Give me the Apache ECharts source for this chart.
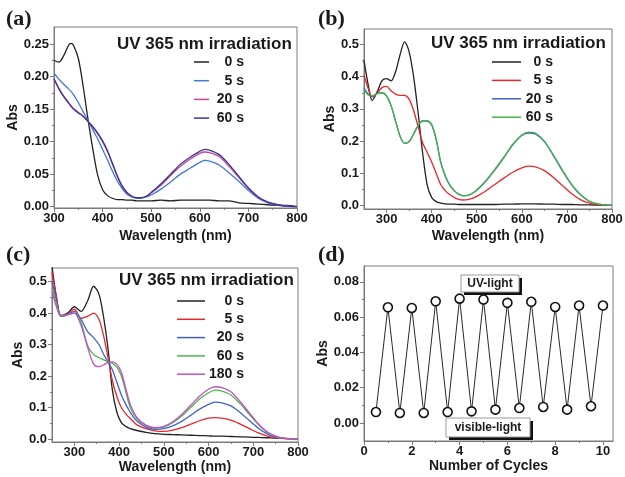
<!DOCTYPE html>
<html><head><meta charset="utf-8">
<script src="https://cdn.jsdelivr.net/npm/echarts@6/dist/echarts.min.js"></script>
<style>html,body{margin:0;padding:0;background:#fff}#c{width:625px;height:477px}</style>
</head><body><div id="c"></div>
<script>
// ---- Panel (a) ----
const aWl = [300,310,320,330,335,340,350,360,370,380,390,400,410,420,430,440,450,460,470,480,490,500,520,540,560,580,600,610,620,640,660,680,700,720,740,760,780,800];
const a0s = [0.225,0.222,0.232,0.248,0.251,0.248,0.228,0.185,0.134,0.088,0.048,0.026,0.017,0.013,0.011,0.011,0.010,0.010,0.009,0.009,0.009,0.009,0.010,0.009,0.010,0.010,0.010,0.010,0.010,0.009,0.009,0.006,0.005,0.004,0.003,0.002,0.002,0.000];
const a5s = [0.205,0.196,0.188,0.181,0.177,0.172,0.160,0.146,0.132,0.118,0.104,0.088,0.072,0.055,0.040,0.028,0.019,0.015,0.013,0.013,0.015,0.018,0.027,0.038,0.050,0.059,0.068,0.071,0.070,0.064,0.052,0.039,0.025,0.013,0.006,0.002,0.001,0.000];
const a20s = [0.197,0.182,0.170,0.160,0.155,0.151,0.145,0.139,0.131,0.122,0.112,0.100,0.085,0.066,0.047,0.032,0.022,0.016,0.014,0.014,0.016,0.021,0.033,0.048,0.062,0.073,0.082,0.084,0.083,0.077,0.062,0.045,0.028,0.015,0.007,0.003,0.001,0.000];
const a60s = [0.196,0.181,0.169,0.159,0.154,0.150,0.144,0.139,0.131,0.123,0.113,0.101,0.086,0.067,0.048,0.032,0.022,0.016,0.014,0.014,0.016,0.022,0.035,0.050,0.065,0.076,0.085,0.088,0.087,0.080,0.065,0.047,0.029,0.015,0.007,0.003,0.001,0.000];

// ---- Panel (b) ----
const bWl = [250,260,268,280,290,300,310,320,330,340,350,360,370,380,390,400,410,420,430,440,450,460,470,480,490,500,520,540,560,580,600,615,630,650,670,690,710,730,750,770,800];
const b0s = [0.450,0.370,0.326,0.355,0.388,0.394,0.387,0.415,0.468,0.508,0.478,0.400,0.288,0.163,0.065,0.025,0.012,0.007,0.005,0.004,0.004,0.003,0.003,0.003,0.003,0.003,0.003,0.003,0.004,0.004,0.005,0.005,0.005,0.004,0.004,0.003,0.003,0.002,0.002,0.001,0.000];
const b5s = [0.405,0.360,0.337,0.350,0.366,0.370,0.356,0.346,0.342,0.342,0.330,0.295,0.245,0.195,0.165,0.135,0.100,0.065,0.046,0.034,0.025,0.019,0.017,0.018,0.022,0.028,0.045,0.065,0.085,0.103,0.117,0.122,0.120,0.108,0.087,0.062,0.037,0.018,0.007,0.002,0.000];
const b20s = [0.365,0.345,0.340,0.348,0.350,0.340,0.310,0.262,0.215,0.193,0.198,0.222,0.248,0.262,0.262,0.250,0.205,0.135,0.092,0.064,0.046,0.035,0.030,0.031,0.037,0.047,0.075,0.110,0.148,0.188,0.217,0.225,0.222,0.198,0.155,0.108,0.065,0.033,0.013,0.004,0.000];
const b60s = [0.360,0.342,0.340,0.348,0.350,0.340,0.310,0.262,0.215,0.193,0.198,0.222,0.248,0.263,0.263,0.252,0.207,0.136,0.092,0.064,0.046,0.035,0.030,0.031,0.038,0.048,0.077,0.112,0.150,0.190,0.219,0.228,0.225,0.200,0.157,0.110,0.066,0.034,0.013,0.004,0.000];

// ---- Panel (c) ----
const cWl = [250,260,270,285,300,315,330,343,355,365,375,385,395,405,415,425,440,460,480,500,520,540,560,580,600,615,630,650,670,690,710,730,750,770,800];
const c0s = [0.548,0.450,0.392,0.400,0.420,0.405,0.440,0.485,0.460,0.390,0.290,0.155,0.085,0.052,0.040,0.033,0.027,0.021,0.017,0.015,0.014,0.013,0.012,0.011,0.010,0.009,0.009,0.008,0.007,0.006,0.005,0.004,0.003,0.002,0.000];
const c5s = [0.530,0.450,0.390,0.395,0.412,0.383,0.390,0.400,0.380,0.330,0.260,0.185,0.135,0.100,0.080,0.065,0.045,0.033,0.026,0.024,0.028,0.036,0.047,0.058,0.066,0.068,0.066,0.060,0.048,0.034,0.020,0.010,0.004,0.001,0.000];
const c20s = [0.500,0.440,0.390,0.395,0.405,0.380,0.340,0.322,0.300,0.270,0.245,0.220,0.180,0.140,0.110,0.085,0.057,0.038,0.031,0.033,0.042,0.056,0.075,0.095,0.110,0.117,0.115,0.105,0.085,0.060,0.036,0.017,0.006,0.002,0.000];
const c60s = [0.480,0.430,0.390,0.395,0.400,0.370,0.295,0.268,0.258,0.252,0.245,0.240,0.228,0.200,0.150,0.100,0.065,0.043,0.035,0.038,0.052,0.073,0.100,0.127,0.147,0.155,0.152,0.140,0.113,0.080,0.048,0.022,0.008,0.002,0.000];
const c180s = [0.470,0.420,0.390,0.395,0.400,0.360,0.290,0.238,0.230,0.235,0.243,0.245,0.237,0.212,0.160,0.110,0.068,0.044,0.036,0.040,0.055,0.078,0.107,0.136,0.158,0.166,0.163,0.150,0.120,0.085,0.050,0.024,0.009,0.002,0.000];

// ---- Panel (d) ----
const dCycles = [0.5,1,1.5,2,2.5,3,3.5,4,4.5,5,5.5,6,6.5,7,7.5,8,8.5,9,9.5,10];
const dAbs = [0.0062,0.0656,0.0057,0.0652,0.0057,0.0690,0.0062,0.0705,0.0066,0.0700,0.0076,0.0681,0.0085,0.0687,0.0091,0.0658,0.0076,0.0666,0.0095,0.0666];

// ---- Tick values ----
const wlMajorA = [300,400,500,600,700,800];
const wlMinorA = [350,450,550,650,750];
const wlMajorB = [300,400,500,600,700,800];
const wlMinorB = [350,450,550,650,750];
const absMajorA = [0,0.05,0.10,0.15,0.20,0.25];
const absMinorA = [0.025,0.075,0.125,0.175,0.225];
const absMajorB = [0,0.1,0.2,0.3,0.4,0.5];
const absMinorB = [0.05,0.15,0.25,0.35,0.45];
const cycMajor = [0,2,4,6,8,10];
const cycMinor = [1,3,5,7,9];
const absMajorD = [0,0.02,0.04,0.06,0.08];
const absMinorD = [0.01,0.03,0.05,0.07];

const FONT = '"Liberation Sans", Arial, sans-serif';
const SERIF = '"Liberation Serif", "Times New Roman", serif';
const AX = '#7a7a7a';
const TXT = '#1a1a1a';

const grids = [
  {left:54, top:27, width:243, height:181},
  {left:364, top:29, width:248, height:180},
  {left:52, top:268, width:246, height:174},
  {left:364, top:266, width:249, height:175}
].map(g => Object.assign(g, {show:true, borderColor:AX, borderWidth:1, backgroundColor:'transparent', containLabel:false, outerBoundsMode:'none'}));

const xAxis = [], yAxis = [];
function addX(g, min, max, major, minor, name, nameGap, fmt) {
  xAxis.push({type:'value', gridIndex:g, min:min, max:max, position:'bottom',
    name:name, nameLocation:'middle', nameGap:nameGap,
    nameTextStyle:{fontFamily:FONT, fontWeight:'bold', fontSize:14, color:TXT},
    axisLine:{show:true, onZero:false, lineStyle:{color:AX, width:1}},
    axisTick:{show:true, customValues:major, length:4, lineStyle:{color:AX}},
    axisLabel:{customValues:major, margin:4, fontFamily:FONT, fontWeight:'bold', fontSize:13, color:TXT, formatter:fmt},
    splitLine:{show:false}});
  xAxis.push({type:'value', gridIndex:g, min:min, max:max, position:'bottom',
    axisLine:{show:false, onZero:false}, axisLabel:{show:false}, splitLine:{show:false},
    axisTick:{show:true, customValues:minor, length:2, lineStyle:{color:AX}}});
}
function addY(g, min, max, major, minor, name, nameGap, fmt) {
  yAxis.push({type:'value', gridIndex:g, min:min, max:max, position:'left',
    name:name, nameLocation:'middle', nameGap:nameGap,
    nameTextStyle:{fontFamily:FONT, fontWeight:'bold', fontSize:14, color:TXT},
    axisLine:{show:true, onZero:false, lineStyle:{color:AX, width:1}},
    axisTick:{show:true, customValues:major, length:4, lineStyle:{color:AX}},
    axisLabel:{customValues:major, margin:5, fontFamily:FONT, fontWeight:'bold', fontSize:13, color:TXT, formatter:fmt},
    splitLine:{show:false}});
  yAxis.push({type:'value', gridIndex:g, min:min, max:max, position:'left',
    axisLine:{show:false, onZero:false}, axisLabel:{show:false}, splitLine:{show:false},
    axisTick:{show:true, customValues:minor, length:2, lineStyle:{color:AX}}});
}
const f0 = v => String(Math.round(v));
const f1 = v => v.toFixed(1);
const f2 = v => v.toFixed(2);
addX(0, 300, 800, wlMajorA, wlMinorA, 'Wavelength (nm)', 21, f0);
addY(0, -0.002, 0.276, absMajorA, absMinorA, 'Abs', 29, f2);
addX(1, 250, 800, wlMajorB, wlMinorB, 'Wavelength (nm)', 20, f0);
addY(1, -0.011, 0.548, absMajorB, absMinorB, 'Abs', 22, f1);
addX(2, 250, 800, wlMajorB, wlMinorB, 'Wavelength (nm)', 18, f0);
addY(2, -0.0095, 0.543, absMajorB, absMinorB, 'Abs', 24, f1);
addX(3, 0, 10.42, cycMajor, cycMinor, 'Number of Cycles', 18, f0);
addY(3, -0.0102, 0.089, absMajorD, absMinorD, 'Abs', 24, f2);

const series = [];
function spec(panel, key, label, wl, vals, color) {
  series.push({type:'line', name:key + '_' + label, xAxisIndex:panel*2, yAxisIndex:panel*2,
    data: wl.map((x, i) => [x, vals[i]]), smooth:0.3, symbol:'none', showSymbol:false,
    lineStyle:{color:color, width:1.3}, itemStyle:{color:color}, clip:true});
}
spec(0,'a','0 s',aWl,a0s,'#222222');
spec(0,'a','5 s',aWl,a5s,'#4279d6');
spec(0,'a','20 s',aWl,a20s,'#c2479c');
spec(0,'a','60 s',aWl,a60s,'#3a3492');
spec(1,'b','0 s',bWl,b0s,'#222222');
spec(1,'b','5 s',bWl,b5s,'#e8262b');
spec(1,'b','20 s',bWl,b20s,'#3e62c9');
spec(1,'b','60 s',bWl,b60s,'#46b446');
spec(2,'c','0 s',cWl,c0s,'#222222');
spec(2,'c','5 s',cWl,c5s,'#e8262b');
spec(2,'c','20 s',cWl,c20s,'#3e62c9');
spec(2,'c','60 s',cWl,c60s,'#4cb84c');
spec(2,'c','180 s',cWl,c180s,'#c24fc4');
series.push({type:'line', name:'cycles', xAxisIndex:6, yAxisIndex:6,
  data: dCycles.map((x, i) => [x, dAbs[i]]), symbol:'circle', symbolSize:9, showSymbol:true,
  lineStyle:{color:'#2a2a2a', width:1}, itemStyle:{color:'#ffffff', borderColor:'#111', borderWidth:1.6}, z:3});

function legend(key, labels, left, top, itemW, textW, gap) {
  return {show:true, orient:'vertical', left:left, top:top, itemWidth:itemW, itemHeight:1.5, itemGap:gap,
    selectedMode:false, padding:0, icon:'rect',
    data: labels.map(l => key + '_' + l),
    formatter: n => '{t|' + n.slice(2) + '}',
    textStyle:{fontFamily:FONT, fontWeight:'bold', fontSize:14, color:TXT,
      rich:{t:{width:textW, align:'right', fontFamily:FONT, fontWeight:'bold', fontSize:14, color:TXT}}}};
}
const legends = [
  legend('a', ['0 s','5 s','20 s','60 s'], 194, 55, 15, 30, 4.7),
  legend('b', ['0 s','5 s','20 s','60 s'], 492, 55, 29, 27, 4.4),
  legend('c', ['0 s','5 s','20 s','60 s','180 s'], 177, 294, 28, 34, 4.3)
];

function txt(x, y, s, size, font, align) {
  return {type:'text', x:x, y:y, silent:true,
    style:{text:s, fill:TXT, font:'bold ' + size + 'px ' + font, textAlign:align || 'left', textVerticalAlign:'middle'}};
}
function box(x, y, w, h, s) {
  return {type:'group', x:x, y:y, silent:true, children:[
    {type:'rect', shape:{x:3, y:3, width:w, height:h}, style:{fill:'#111'}},
    {type:'rect', shape:{x:0, y:0, width:w, height:h}, style:{fill:'#fff', stroke:'#9a9a9a', lineWidth:1}},
    {type:'text', x:w/2, y:h/2+0.5, style:{text:s, fill:TXT, font:'bold 12px ' + FONT, textAlign:'center', textVerticalAlign:'middle'}}
  ]};
}
const graphic = [
  txt(6, 19, '(a)', 22, SERIF), txt(318, 19, '(b)', 22, SERIF),
  txt(6, 255, '(c)', 22, SERIF), txt(318, 255, '(d)', 22, SERIF),
  txt(117, 44, 'UV 365 nm irradiation', 17, FONT),
  txt(431, 43, 'UV 365 nm irradiation', 17, FONT),
  txt(119, 280, 'UV 365 nm irradiation', 17, FONT),
  box(461, 275, 58, 17, 'UV-light'),
  box(446, 418, 84, 19, 'visible-light')
];

const chart = echarts.init(document.getElementById('c'), null, {renderer:'canvas'});
chart.setOption({backgroundColor:'#fff', animation:false, grid:grids, xAxis:xAxis, yAxis:yAxis,
  series:series, legend:legends, graphic:graphic});
</script></body></html>
